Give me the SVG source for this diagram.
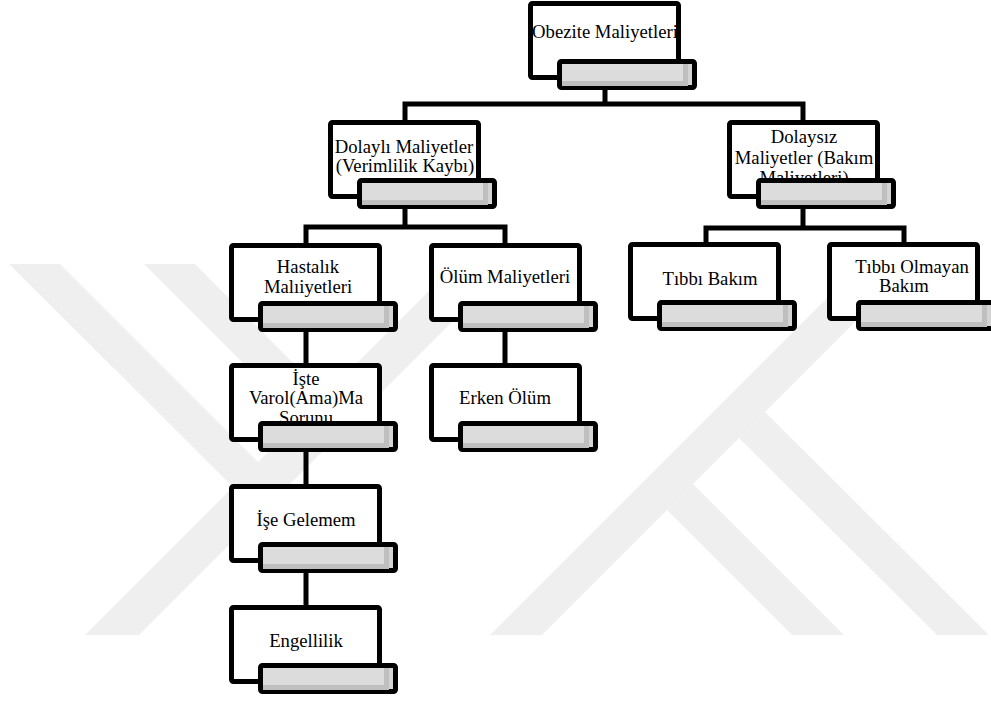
<svg xmlns="http://www.w3.org/2000/svg" width="991" height="702" viewBox="0 0 991 702">
<defs>
<style>
.wm{fill:#efefef}
.box{fill:#fff;stroke:#000;stroke-width:5}
.bar{fill:#d4d4d4;stroke:#000;stroke-width:5}
.lt{fill:#dcdcdc}
.dk{fill:#bfbfbf}
.t{font-family:"Liberation Serif","Times New Roman",serif;font-size:18.7px;fill:#000;text-anchor:middle}
.c{fill:none;stroke:#000;stroke-width:5}
</style>
<g id="barshade">
<rect class="lt" x="34" y="63" width="121" height="17"/>
<rect class="dk" x="155" y="63" width="5" height="22"/>
<rect class="dk" x="34" y="80" width="121" height="5"/>
</g>
</defs>
<rect width="991" height="702" fill="#fff"/>
<g id="watermark">
<polygon class="wm" points="85,635 139,635 510,264 456,264"/>
<polygon class="wm" points="9,264 60,264 259,463 234,488"/>
<polygon class="wm" points="144,264 195,264 325,395 300,420"/>
<polygon class="wm" points="490,635 542,635 913,264 861,264"/>
<polygon class="wm" points="667,510 693,484 844,635 792,635"/>
<polygon class="wm" points="739,438 765,412 989,635 937,635"/>
</g>
<g id="connectors">
<path class="c" d="M605 88V104M405 122V104H803V122"/>
<path class="c" d="M405 207V227M306 245V227H505V245"/>
<path class="c" d="M803 207V228M706 244V228H904V244"/>
<path class="c" d="M306 330V365M505 330V365M306 451V486M306 572V607"/>
</g>
<g id="n-obezite" transform="translate(528,1)">
<rect class="box" x="2.5" y="2.5" width="148" height="74" rx="2"/>
<text class="t" x="77" y="37">Obezite Maliyetleri</text>
<rect class="bar" x="31.5" y="60.5" width="135" height="26" rx="2"/>
<use href="#barshade"/>
</g>
<g id="n-dolayli" transform="translate(328,120)">
<rect class="box" x="2.5" y="2.5" width="148" height="74" rx="2"/>
<text class="t" x="76" y="33">Dolaylı Maliyetler</text>
<text class="t" x="77" y="52">(Verimlilik Kaybı)</text>
<rect class="bar" x="31.5" y="60.5" width="135" height="26" rx="2"/>
<use href="#barshade"/>
</g>
<g id="n-dolaysiz" transform="translate(727,120)">
<rect class="box" x="2.5" y="2.5" width="148" height="74" rx="2"/>
<text class="t" x="77" y="23">Dolaysız</text>
<text class="t" x="77" y="44">Maliyetler (Bakım</text>
<text class="t" x="77" y="64">Maliyetleri)</text>
<rect class="bar" x="31.5" y="60.5" width="135" height="26" rx="2"/>
<use href="#barshade"/>
</g>
<g id="n-hastalik" transform="translate(229,243)">
<rect class="box" x="2.5" y="2.5" width="148" height="74" rx="2"/>
<text class="t" x="79" y="30">Hastalık</text>
<text class="t" x="79" y="50">Malıiyetleri</text>
<rect class="bar" x="31.5" y="60.5" width="135" height="26" rx="2"/>
<use href="#barshade"/>
</g>
<g id="n-olum" transform="translate(429,243)">
<rect class="box" x="2.5" y="2.5" width="148" height="74" rx="2"/>
<text class="t" x="76" y="40">Ölüm Maliyetleri</text>
<rect class="bar" x="31.5" y="60.5" width="135" height="26" rx="2"/>
<use href="#barshade"/>
</g>
<g id="n-tibbi" transform="translate(628,242)">
<rect class="box" x="2.5" y="2.5" width="148" height="74" rx="2"/>
<text class="t" x="82" y="43">Tıbbı Bakım</text>
<rect class="bar" x="31.5" y="60.5" width="135" height="26" rx="2"/>
<use href="#barshade"/>
</g>
<g id="n-tibbiolmayan" transform="translate(827,242)">
<rect class="box" x="2.5" y="2.5" width="148" height="74" rx="2"/>
<text class="t" x="85" y="31">Tıbbı Olmayan</text>
<text class="t" x="77" y="50">Bakım</text>
<rect class="bar" x="31.5" y="60.5" width="135" height="26" rx="2"/>
<use href="#barshade"/>
</g>
<g id="n-iste" transform="translate(229,363)">
<rect class="box" x="2.5" y="2.5" width="148" height="74" rx="2"/>
<text class="t" x="77" y="22">İşte</text>
<text class="t" x="77" y="41">Varol(Ama)Ma</text>
<text class="t" x="77" y="61">Sorunu</text>
<rect class="bar" x="31.5" y="60.5" width="135" height="26" rx="2"/>
<use href="#barshade"/>
</g>
<g id="n-erken" transform="translate(429,363)">
<rect class="box" x="2.5" y="2.5" width="148" height="74" rx="2"/>
<text class="t" x="76" y="41">Erken Ölüm</text>
<rect class="bar" x="31.5" y="60.5" width="135" height="26" rx="2"/>
<use href="#barshade"/>
</g>
<g id="n-ise" transform="translate(229,484)">
<rect class="box" x="2.5" y="2.5" width="148" height="74" rx="2"/>
<text class="t" x="77" y="42">İşe Gelemem</text>
<rect class="bar" x="31.5" y="60.5" width="135" height="26" rx="2"/>
<use href="#barshade"/>
</g>
<g id="n-engellilik" transform="translate(229,605)">
<rect class="box" x="2.5" y="2.5" width="148" height="74" rx="2"/>
<text class="t" x="77" y="42">Engellilik</text>
<rect class="bar" x="31.5" y="60.5" width="135" height="26" rx="2"/>
<use href="#barshade"/>
</g>
</svg>
